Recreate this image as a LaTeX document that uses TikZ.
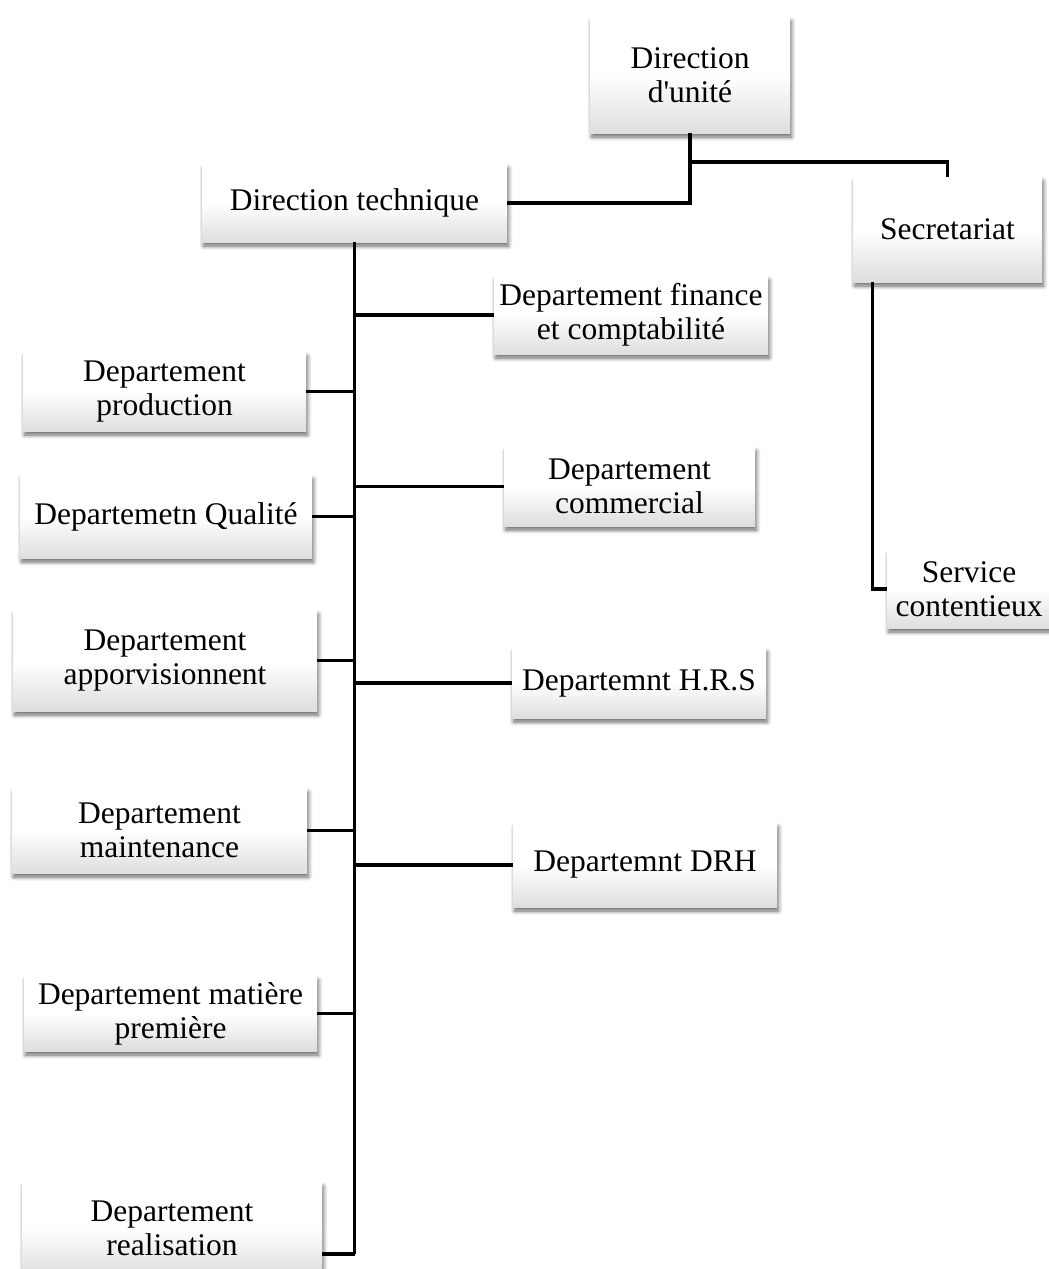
\documentclass[tikz,border=0pt]{standalone}
\usepackage{fontspec}
\setmainfont{Liberation Serif}[Ligatures=TeXOff]
\usetikzlibrary{calc,shadows.blur}
\begin{document}
\begin{tikzpicture}[x=1pt,y=-1pt,
  box/.style={rectangle, inner sep=0pt, align=center,
    top color=white, bottom color=black!13, middle color=white,
    blur shadow={shadow xshift=1.5pt, shadow yshift=-4pt,
      shadow blur radius=4pt, shadow blur steps=6, shadow opacity=60},
    font=\fontsize{31.5}{34}\selectfont},
  link/.style={line width=3.1pt}]
\clip (0,0) rectangle (1049,1269);

% top levels
\node[box, minimum width=200pt, minimum height=116pt] (du)  at (690,75)      {Direction\\d'unité};
\node[box, minimum width=305pt, minimum height=78pt]  (dt)  at (354.5,203)   {Direction technique};
\node[box, minimum width=189pt, minimum height=105pt] (sec) at (947.5,229.5) {Secretariat};
\node[box, minimum width=164pt, minimum height=78pt]  (svc) at (969,589)     {Service\\contentieux};

% departments on the right of the trunk
\node[box, minimum width=274pt, minimum height=78pt]  (fin) at (631,315)     {Departement finance\\et comptabilité};
\node[box, minimum width=251pt, minimum height=79pt]  (com) at (629.5,486.5) {Departement\\commercial};
\node[box, minimum width=254pt, minimum height=70pt]  (hrs) at (639,683)     {Departemnt H.R.S};
\node[box, minimum width=264pt, minimum height=84pt]  (drh) at (645,865)     {Departemnt DRH};

% departments on the left of the trunk
\node[box, minimum width=283pt, minimum height=79pt]  (prod)  at (164.5,391.5) {Departement\\production};
\node[box, minimum width=292pt, minimum height=83pt]  (qual)  at (166,516.5)   {Departemetn Qualité};
\node[box, minimum width=304pt, minimum height=101pt] (appro) at (165,660.5)   {Departement\\apporvisionnent};
\node[box, minimum width=295pt, minimum height=85pt]  (maint) at (159.5,830.5) {Departement\\maintenance};
\node[box, minimum width=293pt, minimum height=75pt]  (mat)   at (170.5,1013.5){Departement matière\\première};
\node[box, minimum width=300pt, minimum height=92pt]  (real)  at (172,1228)    {Departement\\realisation};

% connectors
\coordinate (j1) at (690,162);
\draw[link] (du.south) -- (j1) -| (sec.north);
\draw[link] (j1) |- (dt.east);
\draw[link] ($(sec.south west)+(20,0)$) |- (svc.west);

\coordinate (tend) at (354.5,1254);
\draw[link, line width=3.5pt] (dt.south) -- (tend);
\draw[link] (tend) -- (tend -| real.east);
\foreach \n in {fin,com,hrs,drh}
  \draw[link] (\n.west) -- (\n.west -| dt.south);
\foreach \n in {prod,qual,appro,maint,mat}
  \draw[link] (\n.east) -- (\n.east -| dt.south);
\end{tikzpicture}
\end{document}
